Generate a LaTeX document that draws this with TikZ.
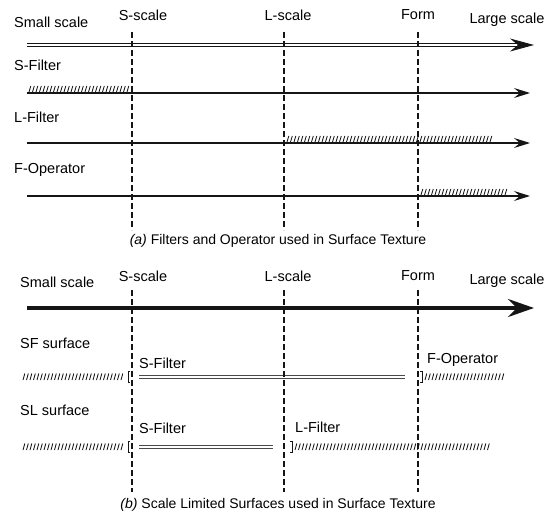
\documentclass[tikz,border=0pt]{standalone}
\usepackage{fontspec}
\setmainfont{Liberation Sans}
\usepackage{tikz}
\usetikzlibrary{positioning,arrows.meta}
\definecolor{ink}{HTML}{151515}
\definecolor{band}{HTML}{4A4A4A}
\tikzset{
  lbl/.style={font=\fontsize{14.5}{17}\selectfont,inner sep=0pt,anchor=west},
  scl/.style={font=\fontsize{14.5}{17}\selectfont,inner sep=0pt},
  captxt/.style={font=\fontsize{14}{17}\selectfont,inner sep=0pt},
  cut/.style={draw=ink,line width=1.8pt,dash pattern=on 6pt off 3pt},
  row/.style={draw=ink,line width=1.2pt,-{Stealth[length=16pt,width=10pt,inset=6pt]}},
  dblaxis/.style={draw=ink,line width=0.9pt,double=white,double distance=2.2pt,
    -{Stealth[length=24pt,width=13pt,inset=8pt]}},
  fataxis/.style={draw=ink,line width=4pt,-{Stealth[length=26pt,width=18pt,inset=9pt]}},
  band/.style={draw=band,line width=0.8pt,double=white,double distance=1.8pt},
  hatch/.style={draw=ink,line width=0.85pt},
  brk/.style={draw=ink,line width=0.8pt},
}

\begin{document}
\begin{tikzpicture}[x=1pt,y=-1pt]
  \useasboundingbox (0,0) rectangle (555,514);

  % (a) filters and operator
  \node[lbl] (small-a) at (14,22) {Small scale};
  \node[scl] (s-a) at (143,15) {S-scale};
  \node[scl] (l-a) at (288,15) {L-scale};
  \node[scl] (f-a) at (418,15) {Form};
  \node[scl] (large-a) at (507,20) {Large scale};
  \coordinate (ax-a0) at (27,45); \coordinate (ax-a1) at (534,45);
  \draw[dblaxis] (ax-a0) -- (ax-a1);

  \node[lbl] (sfil) at (14,65) {S-Filter};
  \coordinate (sr0) at (27,93); \coordinate (sr1) at (530,93);
  \draw[row] (sr0) -- (sr1);
  \foreach \x in {29,32.5,...,128} \draw[hatch] (\x,92) -- ++(1.8,-6);

  \node[lbl] (lfil) at (14,117) {L-Filter};
  \coordinate (lr0) at (27,143); \coordinate (lr1) at (530,143);
  \draw[row] (lr0) -- (lr1);
  \foreach \x in {287,290.5,...,491} \draw[hatch] (\x,142) -- ++(1.8,-6);

  \node[lbl] (fop) at (14,170) {F-Operator};
  \coordinate (fr0) at (27,196); \coordinate (fr1) at (530,196);
  \draw[row] (fr0) -- (fr1);
  \foreach \x in {421,424.5,...,505} \draw[hatch] (\x,195) -- ++(1.8,-6);

  \foreach \x/\n in {132/s,284/l,418/f} {
    \coordinate (\n-a0) at (\x,32); \coordinate (\n-a1) at (\x,230);
    \draw[cut] (\n-a0) -- (\n-a1);
  }
  \node[captxt] (cap-a) at (278,241) {\textit{(a)} Filters and Operator used in Surface Texture};

  % (b) scale limited surfaces
  \node[lbl] (small-b) at (20,282) {Small scale};
  \node[scl] (s-b) at (143,276) {S-scale};
  \node[scl] (l-b) at (288,276) {L-scale};
  \node[scl] (f-b) at (418,276) {Form};
  \node[scl] (large-b) at (507,281) {Large scale};
  \coordinate (ax-b0) at (27,308); \coordinate (ax-b1) at (534,308);
  \draw[fataxis] (ax-b0) -- (ax-b1);

  \node[lbl] (sf) at (20,343) {SF surface};
  \foreach \x in {23,26.5,...,124} \draw[hatch] (\x,380) -- ++(1.8,-6.5);
  \draw[brk] (130,371) -- (128,371) -- (128,382) -- (130,382);
  \node[lbl] (sf-s) at (139,363) {S-Filter};
  \coordinate (sfb0) at (139,377); \coordinate (sfb1) at (405,377);
  \draw[band] (sfb0) -- (sfb1);
  \draw[brk] (420,371) -- (422,371) -- (422,382) -- (420,382);
  \node[lbl] (sf-f) at (427,360) {F-Operator};
  \foreach \x in {425,428.5,...,503} \draw[hatch] (\x,380) -- ++(1.8,-6.5);

  \node[lbl] (sl) at (20,410) {SL surface};
  \foreach \x in {23,26.5,...,124} \draw[hatch] (\x,450) -- ++(1.8,-6.5);
  \draw[brk] (130,441) -- (128,441) -- (128,452) -- (130,452);
  \node[lbl] (sl-s) at (139,428) {S-Filter};
  \coordinate (slb0) at (139,447); \coordinate (slb1) at (273,447);
  \draw[band] (slb0) -- (slb1);
  \draw[brk] (290,441) -- (292,441) -- (292,452) -- (290,452);
  \node[lbl] (sl-l) at (295,427) {L-Filter};
  \foreach \x in {295,298.5,...,488} \draw[hatch] (\x,450) -- ++(1.8,-6.5);

  \foreach \x/\n in {132/s,284/l,418/f} {
    \coordinate (\n-b0) at (\x,290); \coordinate (\n-b1) at (\x,492);
    \draw[cut] (\n-b0) -- (\n-b1);
  }
  \node[captxt] (cap-b) at (278,505) {\textit{(b)} Scale Limited Surfaces used in Surface Texture};
\end{tikzpicture}
\end{document}
